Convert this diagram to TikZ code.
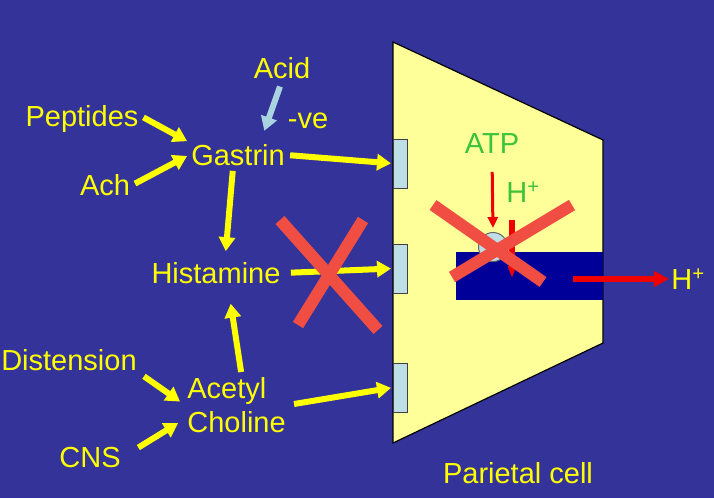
\documentclass[tikz,border=0pt]{standalone}
\usepackage{fontspec}
\setmainfont{Liberation Sans}
\usetikzlibrary{arrows.meta}

\definecolor{slideblue}{RGB}{51,51,153}
\definecolor{cellyellow}{RGB}{255,255,153}
\definecolor{receptorblue}{RGB}{190,222,230}
\definecolor{canalblue}{RGB}{0,0,153}
\definecolor{labelyellow}{RGB}{255,255,0}
\definecolor{atpgreen}{RGB}{60,195,60}
\definecolor{acidblue}{RGB}{170,210,225}
\definecolor{crossred}{RGB}{240,78,66}
\definecolor{pumpred}{RGB}{240,0,0}

\tikzset{every picture/.style={line width=0.75pt}}
\tikzset{
  lbl/.style={text=labelyellow, font=\fontsize{29}{34}\selectfont, inner sep=2pt, text height=21pt, text depth=0pt},
  twolinelbl/.style={text=labelyellow, font=\fontsize{29}{34}\selectfont, inner sep=2pt, align=left},
  greenlbl/.style={lbl, text=atpgreen},
  receptor/.style={draw=black!75, fill=receptorblue, minimum width=14pt, minimum height=49pt, inner sep=0pt, line width=1pt},
  pump/.style={circle, draw=black!60, fill=receptorblue, minimum size=29pt, inner sep=0pt, line width=1pt},
  stim/.style={draw=labelyellow, line width=6pt, -{Triangle[length=14pt,width=16pt]}, shorten <=3pt, shorten >=2pt},
  inhib/.style={stim, draw=acidblue},
  redarrow/.style={draw=pumpred, line width=6pt, -{Triangle[length=15pt,width=15pt]}},
  crossline/.style={draw=crossred, line width=12pt}
}

\begin{document}
\begin{tikzpicture}[x=1pt,y=1pt,yscale=-1]
\useasboundingbox (0,0) rectangle (714,498);

%Shape: Background
\fill [slideblue] (0,0) rectangle (714,498);

%Shape: Parietal cell
\draw [fill=cellyellow, line width=1.2pt] (393,42) -- (603,140) -- (603,343) -- (393,443) -- cycle;

%Shape: Canaliculus
\fill [canalblue] (456,252) rectangle (603,300);

% Receptors
\node [receptor] (rec1) at (400.5,163.5) {};
\node [receptor] (rec2) at (400.5,268.5) {};
\node [receptor] (rec3) at (400.5,387.5) {};

% Proton pump
\node [pump] (pump) at (493,247) {};

% Text Node
\node [lbl] (acid) at (282,68) {Acid};
% Text Node
\node [lbl] (ve) at (308,118) {-ve};
% Text Node
\node [lbl] (peptides) at (82,116) {Peptides};
% Text Node
\node [lbl] (gastrin) at (238,155) {Gastrin};
% Text Node
\node [lbl] (ach) at (105,185) {Ach};
% Text Node
\node [lbl] (histamine) at (216,273) {Histamine};
% Text Node
\node [lbl] (distension) at (69,360) {Distension};
% Text Node
\node [twolinelbl, anchor=west] (acetyl) at (185,405) {Acetyl\\Choline};
% Text Node
\node [lbl] (cns) at (90,457) {CNS};
% Text Node
\node [lbl] (parietal) at (518,473) {Parietal cell};
% Text Node
\node [greenlbl] (atp) at (492,143) {ATP};
% Text Node
\node [greenlbl] (hin) at (523,192) {H\textsuperscript{+}};
% Text Node
\node [lbl] (hout) at (688,279) {H\textsuperscript{+}};

\coordinate (htop) at (512,220);
\coordinate (hbottom) at (512,278);
\coordinate (hstart) at (573,279);

%Straight Lines: stimuli
\draw [stim] (peptides.east) -- (gastrin.north west);
\draw [stim] (ach.east) -- (gastrin.west);
\draw [inhib, shorten <=6pt, shorten >=12pt] (acid.south) -- (gastrin.30);
\draw [stim] (gastrin.east) -- (rec1.west);
\draw [stim, shorten >=9pt] ([xshift=-5pt]gastrin.south) -- ([xshift=9pt]histamine.north);
\draw [stim, shorten <=8pt] (histamine.east) -- (rec2.west);
\draw [stim, shorten >=18pt] ([xshift=5pt]acetyl.north) -- ([xshift=12pt]histamine.south);
\draw [stim, shorten <=6pt, shorten >=6pt] (distension.south east) -- (acetyl.west);
\draw [stim, shorten <=18pt, shorten >=8pt] (cns.east) -- (acetyl.195);
\draw [stim, shorten <=6pt] (acetyl.east) -- (rec3.west);

%Straight Lines: pump
\draw [redarrow, line width=3pt, -{Triangle[length=11pt,width=10pt]}, shorten <=16pt, shorten >=4pt] (atp.south) -- (pump.north);
\draw [redarrow, line width=6pt, -{Triangle[length=12pt,width=8pt]}] (htop) -- (hbottom);
\draw [redarrow] (hstart) -- (hout.west);

%Straight Lines: crosses
\draw [crossline] (280,220) -- (378,330);
\draw [crossline] (363,220) -- (298,325);
\draw [crossline] (433,205) -- (543,282);
\draw [crossline] (572,205) -- (452,277);

\end{tikzpicture}
\end{document}
